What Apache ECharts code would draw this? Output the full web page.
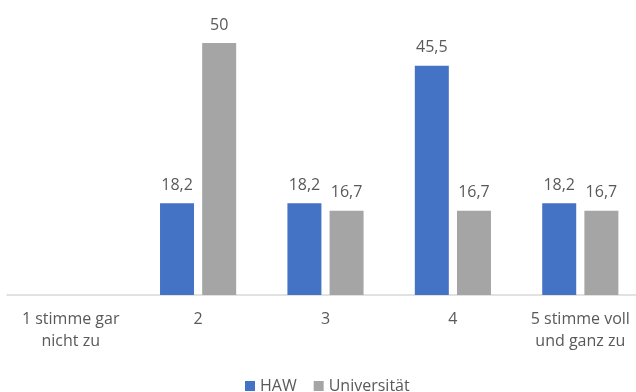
<!DOCTYPE html>
<html>
<head>
<meta charset="utf-8">
<script src="https://cdn.jsdelivr.net/npm/echarts@6/dist/echarts.min.js"></script>
<style>
  html, body { margin: 0; padding: 0; background: #ffffff; }
  #chart { width: 636px; height: 392px; }
</style>
</head>
<body>
<div id="chart"></div>
<script>
// Answer categories (Likert scale 1–5)
const categories = ['1 stimme gar\nnicht zu', '2', '3', '4', '5 stimme voll\nund ganz zu'];
// Share of answers in percent per institution type
const hawValues = [null, 18.2, 18.2, 45.5, 18.2];
const uniValues = [null, 50, 16.7, 16.7, 16.7];
const seriesNames = ['HAW', 'Universität'];

const textColor = '#595959';
const fontFamily = '"Open Sans", "Liberation Sans", sans-serif';

// Values printed with a decimal comma
function fmt(p) {
  return String(p.value).replace('.', ',');
}

const labelStyle = {
  show: true,
  position: 'top',
  distance: 10,
  color: textColor,
  fontSize: 16,
  fontFamily: fontFamily,
  formatter: fmt
};

const chart = echarts.init(document.getElementById('chart'), null, { renderer: 'canvas' });
chart.setOption({
  animation: false,
  backgroundColor: '#ffffff',
  // plot area runs slightly past the right edge of the canvas
  grid: { left: 7, width: 637, top: 43, bottom: 97, containLabel: false, outerBoundsMode: 'none' },
  legend: {
    data: seriesNames,
    left: 240,
    top: 373,
    icon: 'rect',
    itemWidth: 10,
    itemHeight: 10,
    itemGap: 17,
    textStyle: { color: textColor, fontSize: 16, fontFamily: fontFamily }
  },
  xAxis: {
    type: 'category',
    data: categories,
    axisLine: { lineStyle: { color: '#D9D9D9', width: 1.5 } },
    axisTick: { show: false },
    axisLabel: {
      color: textColor,
      fontSize: 16,
      fontFamily: fontFamily,
      lineHeight: 22,
      margin: 13,
      interval: 0
    }
  },
  yAxis: {
    type: 'value',
    min: 0,
    max: 50,
    show: false,
    splitLine: { show: false }
  },
  series: [
    {
      name: seriesNames[0],
      type: 'bar',
      data: hawValues,
      barWidth: 34,
      barGap: '24%',
      itemStyle: { color: '#4472C4' },
      label: labelStyle
    },
    {
      name: seriesNames[1],
      type: 'bar',
      data: uniValues,
      barWidth: 34,
      barGap: '24%',
      itemStyle: { color: '#A5A5A5' },
      label: labelStyle
    }
  ]
});
</script>
</body>
</html>
